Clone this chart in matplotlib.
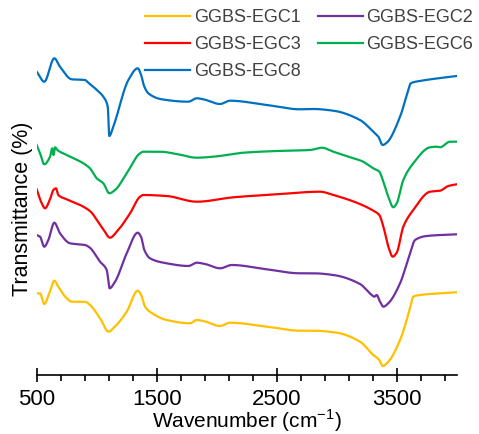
import numpy as np
import matplotlib
matplotlib.use("Agg")
import matplotlib.pyplot as plt
from matplotlib.ticker import FixedLocator

plt.rcParams['font.family'] = ['Liberation Sans', 'DejaVu Sans']
plt.rcParams['mathtext.fontset'] = 'custom'
plt.rcParams['mathtext.rm'] = 'Liberation Sans'

# FTIR spectra (stacked, arbitrary transmittance units)
wn_egc1 = [500, 528, 563, 605, 647, 680, 750, 792, 902, 944, 1028, 1100, 1138, 1250, 1342,
           1370, 1403, 1458, 1583, 1778, 1833, 1889, 2028, 2111, 2417, 2694, 2806, 3000,
           3194, 3305, 3355, 3383, 3430, 3528, 3611, 3638, 3694, 4000]
t_egc1 = [76.7, 76.7, 66, 76.7, 89.3, 83.3, 71.7, 68.3, 68.3, 65, 51.7, 38.3, 41.7, 58.3, 79.3,
          75, 63.3, 57, 50, 46.7, 50, 49, 44, 47.3, 43.3, 39.3, 39.3, 37.3,
          28.3, 15, 10, 4, 8.3, 30, 61.7, 73.3, 75, 77.7]

wn_egc2 = [500, 528, 563, 597, 647, 694, 778, 902, 939, 1028, 1083, 1097, 1107, 1153, 1250,
           1342, 1370, 1397, 1444, 1583, 1764, 1833, 1903, 2028, 2125, 2417, 2694, 2806,
           2972, 3194, 3292, 3314, 3333, 3361, 3389, 3430, 3528, 3611, 3653, 3750, 4000]
t_egc2 = [135, 133.3, 123.3, 130, 147.3, 136.7, 126.7, 125, 122.7, 108.3, 100, 90, 81.7, 88.3, 116.7,
          137.3, 133, 120, 111.7, 106.7, 104, 107.3, 106, 101.7, 105, 100.7, 96.7, 96.7,
          95, 86, 75, 73.3, 75, 68.3, 63.3, 66.7, 86.7, 116.7, 130, 134, 135.7]

wn_egc3 = [500, 542, 569, 611, 639, 661, 680, 750, 889, 958, 1000, 1055, 1111, 1167, 1278,
           1361, 1389, 1583, 1833, 2139, 2500, 2861, 2972, 3167, 3305, 3355, 3389, 3430,
           3467, 3500, 3555, 3638, 3778, 3861, 3930, 4000]
t_egc3 = [180.7, 166.7, 161.7, 170.7, 180, 181.7, 175, 170.7, 163.3, 157.3, 150, 140.7, 132.3, 138.3, 156.7,
          173.3, 175, 174, 168.3, 172.7, 175.7, 178.3, 175, 167.3, 159.3, 155, 143.3, 123.3,
          113.3, 117.3, 143.3, 160, 178.3, 179.3, 184, 185.7]

wn_egc6 = [500, 528, 563, 611, 630, 640, 653, 672, 750, 889, 944, 1000, 1055, 1105, 1153,
           1250, 1361, 1389, 1528, 1667, 1833, 1972, 2222, 2500, 2778, 2875, 2972, 3139,
           3208, 3305, 3355, 3389, 3430, 3472, 3500, 3555, 3638, 3778, 3833, 3861, 3944, 4000]
t_egc6 = [225, 216.7, 205.7, 213.3, 221.7, 215, 222.7, 220, 215, 206.7, 201.7, 191.7, 186.7, 176.7, 180,
          196.7, 216.7, 218.3, 218.3, 216, 212.3, 213.3, 217.3, 219, 220, 222.3, 218.3, 211.7,
          209, 201.7, 198.3, 188.3, 173.3, 162.7, 166.7, 190, 206.7, 222.7, 223.3, 222.7, 228.3, 228.3]

wn_egc8 = [500, 563, 647, 694, 792, 902, 930, 986, 1055, 1092, 1105, 1138, 1264, 1342, 1370,
           1395, 1430, 1542, 1764, 1833, 1889, 2028, 2111, 2417, 2694, 2806, 2972, 3194,
           3305, 3347, 3383, 3417, 3528, 3597, 3617, 3694, 4000]
t_egc8 = [298.3, 288.3, 311.7, 303.3, 290.7, 290, 287.3, 281.7, 273.3, 263.3, 234, 243.3, 290, 301.7, 295,
          284, 276.7, 270.7, 268.3, 271.7, 270.7, 266, 269.3, 265, 260.7, 261, 259.3, 250,
          238.3, 233.3, 225, 227.3, 253.3, 280, 286.7, 289, 294]

labels = ['GGBS-EGC1', 'GGBS-EGC2', 'GGBS-EGC3', 'GGBS-EGC6', 'GGBS-EGC8']
colors = ['#FFC000', '#7030A0', '#FF0000', '#00B050', '#0070C0']
series = [(wn_egc1, t_egc1), (wn_egc2, t_egc2), (wn_egc3, t_egc3),
          (wn_egc6, t_egc6), (wn_egc8, t_egc8)]

major_ticks = [500, 1500, 2500, 3500]


def pchip(x, y, xn):
    """Shape-preserving piecewise cubic through the sampled spectrum points."""
    x = np.asarray(x, float)
    y = np.asarray(y, float)
    h = np.diff(x)
    d = np.diff(y) / h
    m = np.zeros_like(y)
    m[0], m[-1] = d[0], d[-1]
    for k in range(1, len(x) - 1):
        if d[k - 1] * d[k] > 0:
            w1 = 2 * h[k] + h[k - 1]
            w2 = h[k] + 2 * h[k - 1]
            m[k] = (w1 + w2) / (w1 / d[k - 1] + w2 / d[k])
    idx = np.clip(np.searchsorted(x, xn) - 1, 0, len(x) - 2)
    t = (xn - x[idx]) / h[idx]
    h00 = 2 * t**3 - 3 * t**2 + 1
    h10 = t**3 - 2 * t**2 + t
    h01 = -2 * t**3 + 3 * t**2
    h11 = t**3 - t**2
    return h00 * y[idx] + h10 * h[idx] * m[idx] + h01 * y[idx + 1] + h11 * h[idx] * m[idx + 1]


fig = plt.figure(figsize=(4.79, 4.34), dpi=100)
W, H = 479, 434
left, right, top, bottom = 36.7, 456.7, 10, 375
ax = fig.add_axes([left / W, 1 - bottom / H, (right - left) / W, (bottom - top) / H])

xs = np.linspace(500, 4000, 1400)
lines = []
for (x, y), c, lab in zip(series, colors, labels):
    ln, = ax.plot(xs, pchip(x, y, xs), color=c, lw=1.6, label=lab,
                  solid_joinstyle='round')
    lines.append(ln)

ax.set_xlim(500, 4000)
ax.set_ylim(-5, 360)
ax.xaxis.set_major_locator(FixedLocator(major_ticks))
ax.xaxis.set_minor_locator(FixedLocator(np.arange(700, 4000, 200)))
for s in ['top', 'right', 'left']:
    ax.spines[s].set_visible(False)
ax.spines['bottom'].set_linewidth(1.2)
ax.set_yticks([])
ax.tick_params(axis='x', which='major', direction='inout', length=10, width=1.2,
               labelsize=16, pad=5)
ax.tick_params(axis='x', which='minor', direction='out', length=4, width=1.2)

ax.set_xlabel('Wavenumber (cm$^{\\mathregular{-1}}$)', fontsize=15, labelpad=-1.5)
ax.set_ylabel('Transmittance (%)', fontsize=15.5)
ax.yaxis.set_label_coords(-0.008, 0.455)

# two-column legend filled row by row
order = [0, 2, 4, 1, 3]
leg = ax.legend([lines[i] for i in order], [labels[i] for i in order],
                ncol=2, loc='upper left', bbox_to_anchor=(145 / W, 1 - 9 / H),
                bbox_transform=fig.transFigure, frameon=False, fontsize=13,
                handlelength=2.5, handletextpad=0.2, columnspacing=0.95,
                labelspacing=0.55, borderpad=0, borderaxespad=0)
for t in leg.get_texts():
    t.set_color('#404040')

fig.savefig('out.png', dpi=100)
